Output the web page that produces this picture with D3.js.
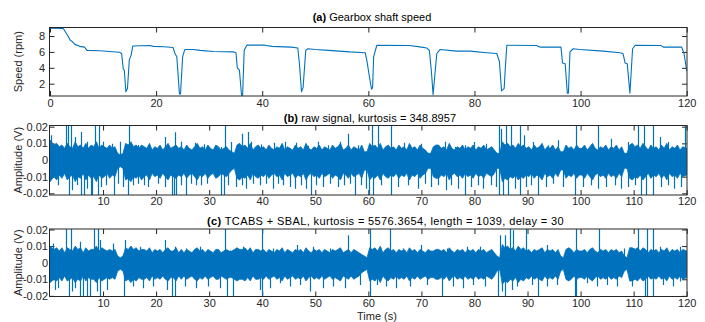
<!DOCTYPE html>
<html><head><meta charset="utf-8">
<script src="https://cdn.jsdelivr.net/npm/d3@7"></script>
<style>
html,body{margin:0;padding:0;background:#fff;}
svg text{font-family:"Liberation Sans",Arial,Helvetica,sans-serif;}
</style></head>
<body><svg id="c" width="705" height="322"></svg>
<script>
// ---------------- DATA ----------------
const xTicksA = [0,20,40,60,80,100,120];
const xTicksBC = [10,20,30,40,50,60,70,80,90,100,110,120];
const yTicksA = [2,4,6,8];
const yTicksBC = [-0.02,-0.01,0,0.01,0.02];
const yTickLabelsBC = ["-0.02","-0.01","0","0.01","0.02"];

const titleA = "Gearbox shaft speed";
const titleB = "raw signal, kurtosis = 348.8957";
const titleC = "TCABS + SBAL, kurtosis = 5576.3654, length = 1039, delay = 30";

// (a) shaft speed (rpm)
const speedT = [0,2.5,3.3,3.8,4.2,4.7,5.6,6.5,7.0,9.4,11.2,13.1,13.5,13.8,14.0,14.3,14.6,14.95,15.3,15.6,18.8,19.5,21.5,23.2,23.55,23.9,24.4,24.6,25.0,25.4,27.0,28.3,30.8,34.6,35.05,35.3,35.7,36.1,36.3,36.6,37.1,40.5,41.8,45.5,46.7,47.0,47.4,47.7,48.2,48.6,50.0,52.5,56.5,59.4,59.7,60.2,60.6,60.8,61.0,61.6,67.8,70.0,71.0,71.5,71.9,72.2,72.9,73.5,76.6,79.2,82.3,84.2,84.7,85.1,85.6,85.8,86.1,91.7,92.0,92.5,96.3,96.6,97.1,97.5,97.7,98.0,98.6,99.8,104.3,107.4,108.0,108.4,108.8,109.3,109.8,110.3,115.2,115.6,119.05,119.5,120];
const speedV = [9.0,8.95,8.1,7.5,7.3,6.95,6.7,6.6,6.2,6.15,6.05,5.95,5.8,3.9,3.7,1.0,1.4,5.0,5.6,6.75,6.8,6.7,6.65,6.55,5.8,5.4,0.7,0.7,5.4,6.3,6.3,6.2,6.05,6.0,5.9,4.0,3.7,0.55,0.55,6.2,6.85,6.85,6.7,6.6,6.5,4.6,1.0,1.5,6.2,6.4,6.3,6.2,6.0,5.9,5.0,2.9,1.3,1.5,5.4,6.84,6.8,6.6,6.5,6.2,3.4,0.6,5.8,6.3,6.1,6.1,5.9,5.8,4.8,1.1,1.4,3.8,6.84,6.8,6.7,6.6,6.6,4.6,4.5,0.8,0.8,6.0,6.4,6.3,6.1,5.9,5.8,4.6,4.5,0.8,6.4,6.84,6.8,6.6,6.6,5.8,3.6];

// (b) raw signal: upper / lower edge of the dense band, every 0.5 s (mV)
const bUp = [12,9,10,8,9,7,10,8,7,11, 8,9,7,10,7,9,8,11,7,9,
 8,7,9,7,8,4,3,4,10,9, 11,8,9,7,9,8,7,10,6,8,
 7,9,6,8,10,7,8,9,7,8, 6,9,7,6,8,10,7,8,6,9,
 7,6,9,8,6,7,8,6,5,4, 9,10,8,9,7,10,6,8,9,7,
 8,6,9,7,6,8,7,10,6,8, 7,6,9,7,8,6,10,7,6,8,
 7,9,6,8,7,6,9,7,8,10, 6,7,9,6,8,7,6,9,5,5,
 10,8,9,7,10,6,8,9,7,8, 6,9,7,8,6,10,7,8,6,9,
 7,6,4,4,8,9,9,7,8,6, 10,7,6,8,7,9,6,8,7,9,
 6,8,7,9,6,7,8,6,4,4, 11,9,10,8,9,7,10,8,9,7,
 8,6,9,7,8,10,6,8,7,9, 6,8,5,5,9,7,8,6,9,7,
 7,9,6,8,10,7,6,8,7,9, 6,8,7,9,6,8,4,4,9,10,
 8,9,7,10,8,6,9,7,8,6, 9,7,10,6,8,7,9,6,8,7];
const bDn = [13,10,12,9,11,8,12,10,9,13, 10,11,8,12,9,11,10,13,9,11,
 10,8,11,9,10,5,4,5,12,11, 13,10,11,9,12,10,9,12,8,10,
 9,11,8,10,12,9,10,11,9,10, 8,11,9,8,10,12,9,10,8,11,
 9,8,11,10,8,9,10,8,6,5, 11,12,10,11,9,12,8,10,11,9,
 10,8,11,9,8,10,9,12,8,10, 9,8,11,9,10,8,12,9,8,10,
 9,11,8,10,9,8,11,9,10,12, 8,9,11,8,10,9,8,11,6,6,
 12,10,11,9,12,8,10,11,9,10, 8,11,9,10,8,12,9,10,8,11,
 9,8,5,5,10,11,11,9,10,8, 12,9,8,10,9,11,8,10,9,11,
 8,10,9,11,8,9,10,8,5,5, 13,11,12,10,11,9,12,10,11,9,
 10,8,11,9,10,12,8,10,9,11, 8,10,6,6,11,9,10,8,11,9,
 9,11,8,10,12,9,8,10,9,11, 8,10,9,11,8,10,5,5,11,12,
 10,11,9,12,10,8,11,9,10,8, 11,9,12,8,10,9,11,8,10,9];
// (b) individual spikes: time (s), peak (V)
const bSpikeT = [0.25,0.9,3.1,3.4,3.9,4.65,5.9,7.0,8.4,9.2,10.0,11.6,13.1,14.9,16.6,18.5,21.6,23.5,24.7,27.3,29.1,
 1.5,3.5,4.1,5.1,5.9,6.4,7.0,7.7,8.0,9.0,9.7,10.6,12.1,12.9,13.8,14.7,15.6,16.6,17.8,18.5,20.4,21.6,23.0,23.4,23.8,24.7,25.7,26.6,27.6,28.5,29.5,
 32.3,32.9,34.2,36.1,37.3,37.9,39.8,42.3,44.2,46.4,48.6,50.5,52.4,54.6,56.2,58.0,
 32.3,32.8,33.5,35.1,36.1,37.0,38.3,39.5,40.8,42.0,43.0,43.9,45.2,46.2,47.4,48.3,49.2,50.2,51.4,52.7,54.3,55.5,56.5,57.4,58.7,59.6,
 60.6,61.8,64.3,66.8,70.0,72.2,74.4,76.3,78.2,80.0,82.2,84.7,85.0,85.9,86.9,88.5,89.4,
 60.2,60.9,62.4,64.3,65.6,67.5,69.4,70.6,71.9,73.1,74.7,75.6,76.9,78.2,79.4,80.7,81.6,83.2,84.1,84.7,85.4,86.3,87.6,88.5,89.8,
 91.0,93.9,95.7,99.2,103.3,105.8,108.9,110.8,112.0,113.6,114.9,116.4,119.6,
 90.7,91.9,93.5,94.8,96.7,98.9,100.5,102.0,103.3,104.8,106.4,107.7,108.9,110.2,111.4,112.3,113.6,115.2,116.4,117.7,119.0];
const bSpikeV = [0.0148,0.0098,0.025,0.025,0.025,0.0138,0.0168,0.011,0.025,0.025,0.011,0.0097,0.011,0.025,0.009,0.0085,0.0138,0.0167,0.011,0.0103,0.0095,
 -0.0152,-0.025,-0.0182,-0.015,-0.025,-0.025,-0.0172,-0.025,-0.025,-0.025,-0.0162,-0.0152,-0.025,-0.0142,-0.0162,-0.025,-0.0152,-0.0142,-0.0152,-0.0162,-0.0142,-0.0162,-0.025,-0.025,-0.025,-0.0152,-0.025,-0.0142,-0.0152,-0.0152,-0.0142,
 0.0078,0.025,0.0108,0.0158,0.0168,0.011,0.0093,0.0104,0.011,0.0104,0.0085,0.011,0.0088,0.011,0.0158,0.0088,
 -0.025,-0.025,-0.0152,-0.0162,-0.0152,-0.0172,-0.0142,-0.0152,-0.0142,-0.0172,-0.0142,-0.0152,-0.0162,-0.0172,-0.0152,-0.0172,-0.025,-0.0152,-0.0162,-0.0142,-0.0162,-0.0152,-0.0142,-0.025,-0.0152,-0.0172,
 0.025,0.025,0.025,0.0104,0.0098,0.0078,0.011,0.0078,0.0088,0.0108,0.0098,0.025,0.0188,0.025,0.025,0.025,0.0148,
 -0.025,-0.025,-0.0152,-0.025,-0.0162,-0.0152,-0.0172,-0.0142,-0.0162,-0.0152,-0.0182,-0.0152,-0.0172,-0.025,-0.0162,-0.0152,-0.0172,-0.0152,-0.0162,-0.025,-0.025,-0.025,-0.0172,-0.025,-0.0162,
 0.0108,0.0088,0.0118,0.025,0.025,0.0128,0.0108,0.025,0.025,0.025,0.0138,0.0108,0.025,
 -0.0152,-0.025,-0.0162,-0.0142,-0.0162,-0.025,-0.0162,-0.0152,-0.0172,-0.0162,-0.0152,-0.0172,-0.0162,-0.0152,-0.025,-0.025,-0.025,-0.0162,-0.0152,-0.0172,-0.0162];

// (c) TCABS + SBAL filtered signal: band edges every 0.5 s (mV)
const cUp = [10,8,9,7,9,6,9,8,7,10, 8,9,6,9,7,8,8,10,7,9,
 8,7,8,7,8,4,3,4,9,8, 10,8,9,7,8,8,7,9,6,8,
 7,8,6,8,9,7,7,9,6,8, 6,8,7,6,8,9,7,8,6,8,
 7,6,8,8,6,7,8,7,7,8, 9,8,8,9,7,9,6,8,8,7,
 8,6,8,7,6,8,7,9,6,8, 7,6,8,7,8,6,9,7,6,8,
 7,8,6,8,7,6,8,7,8,9, 6,7,8,6,8,7,6,5,4,3,
 9,8,9,7,10,6,8,9,7,8, 6,8,7,8,6,9,7,8,6,8,
 7,6,8,7,7,8,8,7,8,6, 9,7,6,8,7,8,6,8,7,8,
 6,8,7,8,6,7,8,6,4,3, 11,9,10,8,9,7,10,8,9,7,
 8,6,8,7,8,9,6,8,7,8, 6,8,4,3,8,9,8,6,8,7,
 7,8,6,8,9,7,6,8,7,8, 6,8,7,8,6,7,4,3,9,9,
 8,9,7,9,8,6,8,7,8,6, 8,7,9,6,8,7,8,6,8,7];
const cDn = [12,10,11,9,11,8,11,10,9,12, 10,11,8,11,9,10,10,12,9,11,
 10,9,10,9,10,5,4,5,11,10, 12,10,11,9,10,10,9,11,8,10,
 9,10,8,10,11,9,9,11,8,10, 8,10,9,8,10,11,9,10,8,10,
 9,8,10,10,8,9,10,9,9,10, 11,10,10,11,9,11,8,10,10,9,
 10,8,10,9,8,10,9,11,8,10, 9,8,10,9,10,8,11,9,8,10,
 9,10,8,10,9,8,10,9,10,11, 8,9,10,8,10,9,8,6,5,4,
 11,10,11,9,12,8,10,11,9,10, 8,10,9,10,8,11,9,10,8,10,
 9,8,10,9,9,10,10,9,10,8, 11,9,8,10,9,10,8,10,9,10,
 8,10,9,10,8,9,10,8,5,4, 13,11,12,10,11,9,12,10,11,9,
 10,8,10,9,10,11,8,10,9,10, 8,10,5,4,10,11,10,8,10,9,
 9,10,8,10,11,9,8,10,9,10, 8,10,9,10,8,9,5,4,11,11,
 10,11,9,11,10,8,10,9,10,8, 10,9,11,8,10,9,10,8,10,9];
const cSpikeT = [0.6,3.1,3.9,5.7,8.3,9.1,9.4,11.9,14.1,17.0,21.7,23.5,25.7,28.3,33.0,
 0.95,1.6,3.5,4.1,4.7,5.7,6.3,7.0,7.5,8.8,9.4,10.7,13.9,15.7,17.6,19.5,22.0,23.0,23.6,25.4,27.6,29.8,32.0,33.3,
 36.4,39.9,42.1,46.5,49.6,52.8,56.2,60.3,64.1,66.6,70.0,74.8,
 34.4,39.6,39.9,41.5,43.4,45.2,47.1,49.0,51.5,53.4,55.6,58.4,60.3,61.6,63.4,65.3,67.8,71.0,73.8,76.0,77.9,
 78.5,81.0,84.8,85.8,86.7,87.3,89.8,93.6,99.1,103.4,108.1,110.0,110.9,112.5,113.7,115.0,118.8,
 79.8,82.0,84.5,85.1,85.8,87.0,88.0,90.8,92.0,93.6,95.5,99.0,99.2,101.2,103.0,104.9,106.8,109.6,112.2,112.5,113.6,115.6,117.5,118.8];
const cSpikeV = [0.0116,0.025,0.025,0.0126,0.025,0.025,0.0136,0.0116,0.0136,0.0096,0.0136,0.0096,0.0086,0.0096,0.025,
 -0.0164,-0.0154,-0.025,-0.0174,-0.0154,-0.025,-0.025,-0.025,-0.025,-0.0174,-0.025,-0.0164,-0.025,-0.0144,-0.0154,-0.0144,-0.0164,-0.025,-0.025,-0.0144,-0.0154,-0.0144,-0.0154,-0.025,
 0.0096,0.025,0.0086,0.0106,0.0096,0.0086,0.0166,0.025,0.025,0.0086,0.0106,0.0086,
 -0.025,-0.0164,-0.025,-0.0154,-0.0124,-0.0144,-0.0134,-0.0174,-0.0154,-0.0144,-0.0154,-0.0134,-0.025,-0.0134,-0.0144,-0.0154,-0.0144,-0.0134,-0.025,-0.0144,-0.0154,
 0.0096,0.0096,0.0166,0.0166,0.025,0.0196,0.025,0.0106,0.025,0.025,0.0086,0.0086,0.025,0.025,0.025,0.0096,0.0096,
 -0.0134,-0.0144,-0.025,-0.0174,-0.025,-0.0164,-0.0144,-0.0134,-0.025,-0.0144,-0.0134,-0.025,-0.025,-0.0124,-0.0144,-0.0134,-0.0144,-0.0144,-0.025,-0.025,-0.025,-0.0134,-0.0144,-0.0114];

// ---------------- DRAW ----------------
const blue = "#0072BD", axc = "#262626";
const svg = d3.select("#c");
const L = 49.5, R = 687;
const x = d3.scaleLinear().domain([0,120]).range([50, 686.7]);

const panels = [
  {key:"a", top:27.5, bot:96, y:d3.scaleLinear().domain([0.45,9.05]).range([96,27.7]),
   yt:yTicksA, ytl:yTicksA.map(String), xt:xTicksA, ypad:4.5, xpad:3, tag:"(a)", title:titleA, tx:372, ty:21, ls:0, ylab:"Speed (rpm)"},
  {key:"b", top:125.5, bot:195, y:d3.scaleLinear().domain([-0.021,0.0206]).range([195,125.7]),
   yt:yTicksBC, ytl:yTickLabelsBC, xt:xTicksBC, ypad:1.5, xpad:2.5, tag:"(b)", title:titleB, tx:370, ty:122, ls:0.1, ylab:"Amplitude (V)",
   up:bUp, dn:bDn, st:bSpikeT, sv:bSpikeV},
  {key:"c", top:229, bot:296.5, y:d3.scaleLinear().domain([-0.0205,0.0203]).range([296.7,229]),
   yt:yTicksBC, ytl:yTickLabelsBC, xt:xTicksBC, ypad:1.5, xpad:2.5, tag:"(c)", title:titleC, tx:385.5, ty:225, ls:0.38, ylab:"Amplitude (V)",
   up:cUp, dn:cDn, st:cSpikeT, sv:cSpikeV}
];

panels.forEach(p => {
  const g = svg.append("g");
  const cid = "clip-" + p.key;
  svg.append("clipPath").attr("id", cid).append("rect")
    .attr("x", L).attr("y", p.top).attr("width", R-L).attr("height", p.bot-p.top);

  // axes first (ticks inward, data drawn over them)
  const ax = g.append("g");
  ax.append("g").attr("transform",`translate(0,${p.bot})`)
    .call(d3.axisBottom(x).tickValues(p.xt).tickSize(-5).tickPadding(p.xpad).tickFormat(d3.format("d")));
  ax.append("g").attr("transform",`translate(0,${p.top})`)
    .call(d3.axisTop(x).tickValues(p.xt).tickSize(-5).tickFormat(""));
  ax.append("g").attr("transform",`translate(${L},0)`)
    .call(d3.axisLeft(p.y).tickValues(p.yt).tickSize(-5).tickPadding(p.ypad).tickFormat((d,i)=>p.ytl[i]));
  ax.append("g").attr("transform",`translate(${R},0)`)
    .call(d3.axisRight(p.y).tickValues(p.yt).tickSize(-5).tickFormat(""));
  ax.selectAll(".domain").remove();
  ax.selectAll(".tick line").attr("stroke", axc).attr("stroke-width", 1);
  ax.selectAll(".tick text").attr("fill", axc).style("font-size", "11px").attr("font-family", null);

  const dg = g.append("g").attr("clip-path", `url(#${cid})`);
  if (p.key === "a") {
    const pts = speedT.map((t,i)=>[t, speedV[i]]);
    dg.append("path").attr("d", d3.line().x(d=>x(d[0])).y(d=>p.y(d[1]))(pts))
      .attr("fill","none").attr("stroke",blue).attr("stroke-width",1.1).attr("stroke-linejoin","round");
  } else {
    const n = p.up.length;
    const bins = p.up.map((u,i)=>({t: i===0 ? 0 : (i===n-1 ? 120 : i*0.5+0.25), u: u/1000, d: -p.dn[i]/1000}));
    dg.append("path").attr("d", d3.area().x(d=>x(d.t)).y0(d=>p.y(d.d)).y1(d=>p.y(d.u))(bins))
      .attr("fill", blue).attr("stroke", blue).attr("stroke-width", 0.8).attr("stroke-linejoin","miter");
    dg.selectAll("line.sp").data(p.st.map((t,i)=>[t,p.sv[i]])).enter().append("line")
      .attr("x1", d=>Math.round(x(d[0]))+0.5).attr("x2", d=>Math.round(x(d[0]))+0.5)
      .attr("y1", p.y(0)).attr("y2", d=>p.y(d[1]))
      .attr("stroke", blue).attr("stroke-width", 1.2);
  }
  g.append("rect").attr("x",L).attr("y",p.top).attr("width",R-L).attr("height",p.bot-p.top)
    .attr("fill","none").attr("stroke",axc).attr("stroke-width",1);

  const t = g.append("text").attr("x",p.tx).attr("y",p.ty).attr("text-anchor","middle")
    .style("font-size","11px").style("letter-spacing", p.ls + "px").attr("fill","#000");
  t.append("tspan").attr("font-weight","bold").text(p.tag);
  t.append("tspan").text(" " + p.title);
  g.append("text").attr("transform",`translate(22,${(p.top+p.bot)/2}) rotate(-90)`)
    .attr("text-anchor","middle").style("font-size","11px").attr("fill",axc).text(p.ylab);
});
svg.append("text").attr("x",377).attr("y",320).attr("text-anchor","middle")
  .style("font-size","11px").attr("fill",axc).text("Time (s)");
</script></body></html>
